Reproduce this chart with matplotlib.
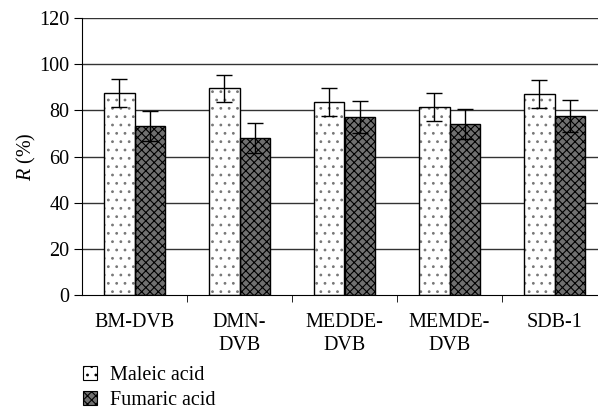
import matplotlib
matplotlib.use('Agg')
import matplotlib.pyplot as plt
from matplotlib.patches import Patch
import numpy as np

# data
categories = ['BM-DVB', 'DMN-\nDVB', 'MEDDE-\nDVB', 'MEMDE-\nDVB', 'SDB-1']
maleic = [87.5, 89.5, 83.5, 81.5, 87.0]
maleic_err = [6.0, 6.0, 6.0, 6.0, 6.0]
fumaric = [73.0, 68.0, 77.0, 74.0, 77.5]
fumaric_err = [6.5, 6.5, 7.0, 6.5, 7.0]
yticks = [0, 20, 40, 60, 80, 100, 120]

plt.rcParams['font.family'] = 'Liberation Serif'
plt.rcParams['mathtext.fontset'] = 'custom'
plt.rcParams['mathtext.it'] = 'Liberation Serif:italic'
plt.rcParams['mathtext.rm'] = 'Liberation Serif'
plt.rcParams['hatch.linewidth'] = 0.8
fs = 14.5

fig = plt.figure(figsize=(5.98, 4.16), dpi=100)
ax = fig.add_axes([82 / 598, 1 - 295 / 416, 516 / 598, 277 / 416])

x = np.arange(len(categories))
w = 0.29

for y in yticks[1:]:
    ax.axhline(y, color='#333333', lw=1.0, zorder=0)

# maleic: white with small grey dots, black outline drawn on top
ax.bar(x - w / 2, maleic, w, color='white', edgecolor='#777777', hatch='..',
       lw=0, zorder=2)
ax.bar(x - w / 2, maleic, w, fill=False, edgecolor='black', lw=1.0, zorder=2.5)
ax.bar(x + w / 2, fumaric, w, color='#707070', edgecolor='black', hatch='xxxx',
       lw=1.0, zorder=2)
ax.errorbar(x - w / 2, maleic, yerr=maleic_err, fmt='none', ecolor='black',
            elinewidth=1.0, capsize=5.5, capthick=1.0, zorder=3)
ax.errorbar(x + w / 2, fumaric, yerr=fumaric_err, fmt='none', ecolor='black',
            elinewidth=1.0, capsize=5.5, capthick=1.0, zorder=3)

ax.set_ylim(0, 120)
ax.set_xlim(-0.5, -0.5 + 516 / 105)
ax.set_yticks(yticks)
ax.set_xticks(x)
ax.set_xticklabels(categories, fontsize=fs, linespacing=1.3)
ax.set_xticks(x[:-1] + 0.5, minor=True)
ax.tick_params(axis='x', which='major', length=0, pad=13)
ax.tick_params(axis='x', which='minor', length=5, direction='out')
ax.tick_params(axis='y', length=6, direction='out', labelsize=fs, pad=3)

ax.spines['right'].set_visible(False)
ax.spines['top'].set_visible(False)
ax.set_ylabel(r'$\it{R}$ (%)', fontsize=fs)
ax.yaxis.set_label_coords(-0.086, 0.5)

handles = [Patch(facecolor='white', edgecolor='black', hatch='..', lw=0.8),
           Patch(facecolor='#707070', edgecolor='black', hatch='xxxx', lw=0.8)]
ax.legend(handles, ['Maleic acid', 'Fumaric acid'], loc='upper left',
          bbox_to_anchor=(83 / 598, 1 - 366 / 416),
          bbox_transform=fig.transFigure, frameon=False, fontsize=fs,
          handlelength=0.7, handleheight=0.7, handletextpad=0.65,
          labelspacing=0.3, borderpad=0, borderaxespad=0)

fig.savefig('out.png', dpi=100)
